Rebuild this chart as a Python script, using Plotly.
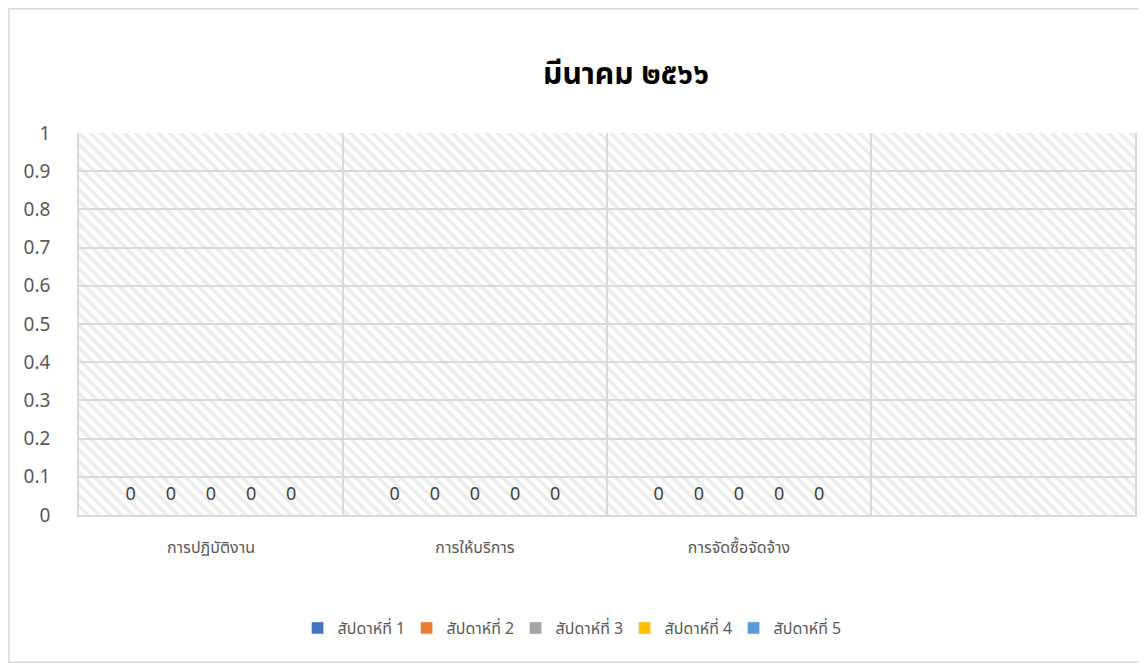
import plotly.graph_objects as go

# ---- data ----
title_text = "มีนาคม ๒๕๖๖"
categories = ["การปฏิบัติงาน", "การให้บริการ", "การจัดซื้อจัดจ้าง", "ว่าง"]
tick_labels = ["การปฏิบัติงาน", "การให้บริการ", "การจัดซื้อจัดจ้าง", ""]
series_names = ["สัปดาห์ที่ 1", "สัปดาห์ที่ 2", "สัปดาห์ที่ 3", "สัปดาห์ที่ 4", "สัปดาห์ที่ 5"]
week1 = [0, 0, 0, None]
week2 = [0, 0, 0, None]
week3 = [0, 0, 0, None]
week4 = [0, 0, 0, None]
week5 = [0, 0, 0, None]
series_values = [week1, week2, week3, week4, week5]
y_ticks = [0, 0.1, 0.2, 0.3, 0.4, 0.5, 0.6, 0.7, 0.8, 0.9, 1]

colors = ["#4472C4", "#ED7D31", "#A5A5A5", "#FFC000", "#5B9BD5"]
FONT = "Noto Sans Thai, Leelawadee UI, Tahoma, Noto Sans, sans-serif"
Y_MAX = y_ticks[-1]
X_RANGE = [-0.5, len(categories) - 0.5]

# figure geometry (page has an 8px body margin)
W, H = 1139, 655
PX0, PX1, PY0, PY1 = 71, 1129, 125, 507  # plot area in figure pixels
PW, PH = PX1 - PX0, PY1 - PY0


def px(x):
    return (x - PX0) / PW


def py(y):
    return (PY1 - y) / PH


fig = go.Figure()

# hatched plot background (one full-width band per category)
fig.add_trace(go.Bar(
    x=categories, y=[Y_MAX] * len(categories), width=1, offset=-0.5,
    marker=dict(color="rgba(0,0,0,0)", line=dict(width=0),
                pattern=dict(shape="\\", fgcolor="#dadada", size=8, solidity=0.45,
                             fillmode="overlay")),
    hoverinfo="skip", showlegend=False, xaxis="x", yaxis="y",
))

for i, (name, vals, col) in enumerate(zip(series_names, series_values, colors)):
    fig.add_trace(go.Bar(
        x=categories, y=vals, name=name, marker_color=col,
        offsetgroup=str(i), xaxis="x2", yaxis="y2",
    ))
    # data labels
    fig.add_trace(go.Scatter(
        x=categories, y=vals, mode="markers+text",
        text=[("%g" % v if v is not None else "") for v in vals],
        textposition="top center",
        textfont=dict(size=18, color="#404040", family=FONT),
        marker=dict(size=16, opacity=0),
        offsetgroup=str(i), showlegend=False, hoverinfo="skip",
        cliponaxis=False, xaxis="x2", yaxis="y2",
    ))

fig.update_layout(
    width=W, height=H,
    margin=dict(l=PX0, r=W - PX1, t=PY0, b=H - PY1),
    paper_bgcolor="white", plot_bgcolor="white",
    font=dict(family=FONT, color="#595959"),
    title=dict(text="<b>" + title_text + "</b>", x=618 / W, xanchor="center",
               y=1 - 65 / H, yanchor="middle", font=dict(size=30, color="#000000", family=FONT)),
    barmode="group", bargap=0.24, bargroupgap=0,
    scattermode="group", scattergap=0.24,
    xaxis=dict(type="category", categoryorder="array", categoryarray=categories,
               tickvals=categories, ticktext=tick_labels,
               tickson="boundaries", showgrid=True, gridcolor="#d9d9d9", gridwidth=1.5,
               showline=True, linecolor="#d9d9d9", linewidth=1.5, ticks="",
               tickfont=dict(size=16, color="#595959", family=FONT), ticklabelstandoff=17,
               range=X_RANGE),
    yaxis=dict(range=[0, Y_MAX], tickvals=y_ticks, showgrid=True, gridcolor="#d9d9d9",
               gridwidth=1.5, zeroline=False, showline=True, mirror=True,
               linecolor="#d9d9d9", linewidth=1.5, ticks="",
               tickfont=dict(size=19, color="#595959", family=FONT), ticklabelstandoff=23),
    xaxis2=dict(type="category", categoryorder="array", categoryarray=categories,
                overlaying="x", range=X_RANGE, showgrid=False, showticklabels=False, ticks="",
                showline=False),
    yaxis2=dict(overlaying="y", range=[0, Y_MAX], showgrid=False, showticklabels=False,
                ticks="", zeroline=False, showline=False),
    legend=dict(orientation="h", x=px(290), xanchor="left", y=py(620),
                yanchor="middle", font=dict(size=16, color="#595959", family=FONT),
                entrywidth=64, traceorder="normal"),
    showlegend=True,
)

# outer chart border
fig.add_shape(type="rect", xref="paper", yref="paper",
              x0=px(0.75), x1=px(W - 0.75), y0=py(H - 0.75), y1=py(0.75),
              line=dict(color="#d9d9d9", width=1.5), fillcolor="rgba(0,0,0,0)", layer="below")

fig.write_html("out.html")
